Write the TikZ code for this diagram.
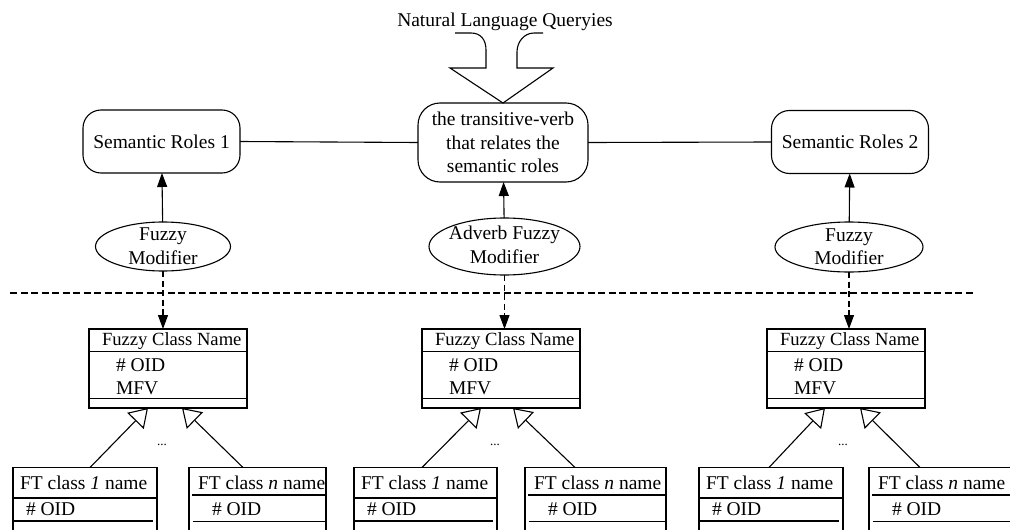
\documentclass[tikz,border=0pt]{standalone}
\usepackage{fontspec}
\setmainfont{Liberation Serif}
\usetikzlibrary{arrows.meta,calc,shapes.geometric}

\begin{document}
\begin{tikzpicture}[x=1pt,y=-1pt,line width=1.1pt,
  every node/.style={font=\fontsize{19.5}{23.5}\selectfont,inner sep=0pt,outer sep=0pt},
  role/.style={draw,rounded corners=18pt,minimum width=157pt,minimum height=63pt,align=center},
  verb/.style={draw,rounded corners=22pt,minimum width=170pt,minimum height=79pt,align=center},
  modifier/.style={draw,ellipse},
  modtext/.style={align=center},
  fuzzybox/.style={draw,anchor=north west,minimum width=158pt,minimum height=79pt},
  ftbox/.style={draw,anchor=north west,minimum height=90pt},
  label/.style={anchor=base west},
  header/.style={anchor=base west,font=\fontsize{18.6}{22}\selectfont},
  dots/.style={font=\fontsize{13}{15}\selectfont},
  solidarrow/.style={-{Triangle[length=14pt,width=10pt]}},
  dasharrow/.style={dash pattern=on 6pt off 3.5pt,-{Triangle[length=14pt,width=10pt]}},
  separator/.style={dash pattern=on 7pt off 3.5pt},
  inherit/.style={-{Triangle[open,length=18pt,width=23pt]},line join=miter},
]
\useasboundingbox (0,0) rectangle (1010,530);
\clip (0,0) rectangle (1010,530);

% ---------- query input ----------
\node[anchor=base] (query) at (505,27) {Natural Language Queryies};

% ---------- semantic layer ----------
\node[verb] (verb) at (503,142.5) {the transitive-verb\\that relates the\\semantic roles};
\node[role] (sr1) at (161.5,141.5) {Semantic Roles 1};
\node[role] (sr2) at (850,142) {Semantic Roles 2};

\draw (sr1.east) -- (verb.west);
\draw (verb.east) -- (sr2.west);

% block arrow carrying the query into the verb
\draw[line join=miter]
  (455,33) -- (471,33) .. controls (481,33) and (486,40) .. (486,50)
  -- (486,68) -- (450,68) -- (verb.north) -- (553,68) -- (517,68)
  -- (517,52) .. controls (517,42) and (524,33) .. (534,33) -- (543,33);

% fuzzy modifiers
\node[modifier,minimum width=135pt,minimum height=49pt] (m1) at (163,246.5) {};
\node[modtext] (m1t) at (163,246) {Fuzzy\\Modifier};
\node[modifier,minimum width=151pt,minimum height=57pt] (m2) at (504.5,246.5) {};
\node[modtext] (m2t) at (504.5,245) {Adverb Fuzzy\\Modifier};
\node[modifier,minimum width=148pt,minimum height=50pt] (m3) at (849,247) {};
\node[modtext] (m3t) at (849,246.5) {Fuzzy\\Modifier};

\draw[solidarrow] (m1) -- (sr1);
\draw[solidarrow] (m2) -- (verb);
\draw[solidarrow] (m3) -- (sr2);

% layer separator
\coordinate (sepL) at (10,293);
\coordinate (sepR) at (975,293);
\draw[separator] (sepL) -- (sepR);

% ---------- fuzzy classes ----------
\foreach \n/\x in {1/89,2/422,3/767}{
  \node[fuzzybox] (fc\n) at (\x,329) {};
  \draw ($(fc\n.north west)+(0,22.5)$) -- ($(fc\n.north east)+(0,22.5)$);
  \draw ($(fc\n.north west)+(0,69.5)$) -- ($(fc\n.north east)+(0,69.5)$);
  \node[header] (fc\n name) at ($(fc\n.north west)+(13,16)$) {Fuzzy Class Name};
  \node[label] (fc\n oid) at ($(fc\n.north west)+(27,42)$) {\# OID};
  \node[label] (fc\n mfv) at ($(fc\n.north west)+(27,65)$) {MFV};
}

\draw[dasharrow] (m1.south) -- (m1.south |- fc1.north);
\draw[dasharrow] (m2.south) -- (m2.south |- fc2.north);
\draw[dasharrow] (m3.south) -- (m3.south |- fc3.north);

% ---------- fuzzy type classes ----------
% group / left box x / width / right box x / width
\foreach \n/\a/\wa/\b/\wb in {1/13/144/189/137, 2/354/143/525/141, 3/699/144/869/145}{
  \node[ftbox,minimum width=\wa pt] (fta\n) at (\a,467.5) {};
  \draw ($(fta\n.north west)+(0,30.5)$) -- ($(fta\n.north east)+(0,30.5)$);
  \draw ($(fta\n.north west)+(0,53.5)$) -- ($(fta\n.north east)+(-4,53.5)$);
  \node[label] (fta\n name) at ($(fta\n.north west)+(7,22)$) {FT class \textit{1} name};
  \node[label] (fta\n oid) at ($(fta\n.north west)+(13,48)$) {\# OID};

  \node[ftbox,minimum width=\wb pt] (ftb\n) at (\b,467.5) {};
  \draw ($(ftb\n.north west)+(3,27.5)$) -- ($(ftb\n.north east)+(0,27.5)$);
  \draw ($(ftb\n.north west)+(4,54)$) -- ($(ftb\n.north east)+(-1,54)$);
  \node[label] (ftb\n name) at ($(ftb\n.north west)+(9,22)$) {FT class \textit{n} name};
  \node[label] (ftb\n oid) at ($(ftb\n.north west)+(23,48)$) {\# OID};
}

% generalisation arrows
\coordinate (ga1) at ($(fta1.north west)+(77,0)$);
\coordinate (gb1) at ($(ftb1.north west)+(54,0)$);
\coordinate (ha1) at ($(fc1.south west)+(59,0)$);
\coordinate (hb1) at ($(fc1.south west)+(93,0)$);
\coordinate (ga2) at ($(fta2.north west)+(68,0)$);
\coordinate (gb2) at ($(ftb2.north west)+(50,0)$);
\coordinate (ha2) at ($(fc2.south west)+(59,0)$);
\coordinate (hb2) at ($(fc2.south west)+(91,0)$);
\coordinate (ga3) at ($(fta3.north west)+(70,0)$);
\coordinate (gb3) at ($(ftb3.north west)+(51,0)$);
\coordinate (ha3) at ($(fc3.south west)+(58,0)$);
\coordinate (hb3) at ($(fc3.south west)+(93,0)$);
\foreach \n in {1,2,3}{
  \draw[inherit] (ga\n) -- (ha\n);
  \draw[inherit] (gb\n) -- (hb\n);
}

\node[dots] (dots1) at (162,445) {...};
\node[dots] (dots2) at (495,445) {...};
\node[dots] (dots3) at (843,445) {...};
\end{tikzpicture}
\end{document}
